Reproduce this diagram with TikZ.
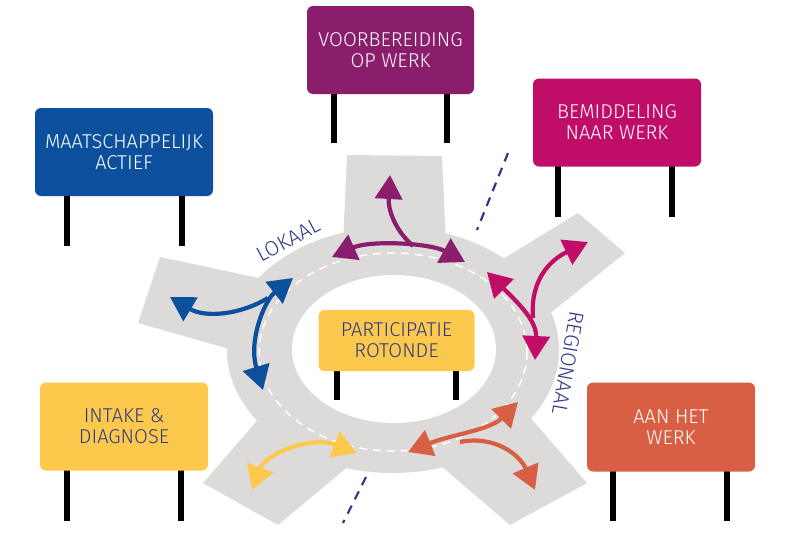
\documentclass[tikz,border=0pt]{standalone}
\usepackage{fontspec}
\setmainfont{Fira Sans Light}
\usetikzlibrary{arrows.meta}
\definecolor{cpurple}{RGB}{138,29,108}
\definecolor{cblue}{RGB}{12,80,157}
\definecolor{cmagenta}{RGB}{192,14,104}
\definecolor{cyellow}{RGB}{253,201,76}
\definecolor{corange}{RGB}{217,95,68}
\definecolor{cnavy}{RGB}{44,56,136}
\definecolor{croad}{RGB}{220,219,218}
\begin{document}
\begin{tikzpicture}[x=1pt,y=-1pt,
  signbox/.style={rounded corners=6pt, inner sep=0pt, align=center, font=\fontsize{20}{21}\selectfont},
  leg/.style={line width=6pt, black},
  tipA/.tip={Triangle[length=24pt,width=27pt]},
  arr/.style={line width=4.2pt, -tipA},
  arrtwo/.style={line width=4.2pt, tipA-tipA},
  lbl/.style={text=cnavy, font=\fontsize{21}{22}\selectfont, inner sep=0pt},
  road/.style={fill=croad}
]
\useasboundingbox (0,0) rectangle (788,549);
% road
\fill[road] (393,350) ellipse [x radius=166, y radius=123];
\fill[road] (343,245) -- (347,155) -- (442,156) -- (446,245) -- cycle;
\fill[road] (498,262) -- (578,213) -- (625,253) -- (548,315) -- cycle;
\fill[road] (160,257) -- (268,280) -- (240,352) -- (138,323) -- cycle;
\fill[road] (262,415) -- (203,483) -- (278,525) -- (350,465) -- cycle;
\fill[road] (528,415) -- (587,483) -- (510,525) -- (440,465) -- cycle;
\fill[white] (394,349) ellipse [x radius=102, y radius=74];
\draw[white, line width=1.5pt, dash pattern=on 8pt off 6pt] (393,352) ellipse [x radius=134, y radius=99];
% dashed border lines
\draw[cnavy, line width=2.2pt, dash pattern=on 9pt off 7pt] (508,153) -- (477,230);
\draw[cnavy, line width=2.2pt, dash pattern=on 9pt off 7pt] (366,477) -- (343,523);
% labels
\node[lbl, rotate=28] (lokaal) at (288,240) {LOKAAL};
\node[lbl, rotate=-100] (regio) at (568,363) {REGIONAAL};
% signs
\draw[leg] (334,90) -- (334,143);
\draw[leg] (447,90) -- (447,143);
\node[signbox, fill=cpurple, text=white, minimum width=167pt, minimum height=88pt] (vob) at (390.5,50) {VOORBEREIDING\\OP WERK};
\draw[leg] (67,190) -- (67,246);
\draw[leg] (182,190) -- (182,246);
\node[signbox, fill=cblue, text=white, minimum width=178pt, minimum height=88pt] (maat) at (124,152) {MAATSCHAPPELIJK\\ACTIEF};
\draw[leg] (558,160) -- (558,217);
\draw[leg] (672,160) -- (672,217);
\node[signbox, fill=cmagenta, text=white, minimum width=168pt, minimum height=88pt] (bem) at (617,122.5) {BEMIDDELING\\NAAR WERK};
\draw[leg] (67,465) -- (67,521);
\draw[leg] (181,465) -- (181,521);
\node[signbox, fill=cyellow, text=cnavy, minimum width=168pt, minimum height=88pt] (intake) at (124,426.5) {INTAKE \&\\DIAGNOSE};
\draw[leg] (613,465) -- (613,521);
\draw[leg] (727,465) -- (727,521);
\node[signbox, fill=corange, text=white, minimum width=168pt, minimum height=89pt] (aan) at (671,427) {AAN HET\\WERK};
\draw[leg] (337,365) -- (337,400);
\draw[leg] (456,365) -- (456,400);
\node[signbox, fill=cyellow, text=cnavy, minimum width=156pt, minimum height=61pt] (part) at (396.5,340.5) {PARTICIPATIE\\ROTONDE};
% arrow coordinates
\coordinate (pL) at (332,257); \coordinate (pR) at (465,262); \coordinate (pJ) at (413,246); \coordinate (pT) at (390,175);
\coordinate (mA) at (487,272); \coordinate (mB) at (535,360); \coordinate (mJ) at (533,318); \coordinate (mT) at (588,242);
\coordinate (bA) at (293,278); \coordinate (bB) at (263,390); \coordinate (bJ) at (268,298); \coordinate (bT) at (170,297);
\coordinate (yA) at (252,490); \coordinate (yB) at (357,453);
\coordinate (oA) at (518,402); \coordinate (oB) at (408,452); \coordinate (oJ) at (460,442); \coordinate (oT) at (535,490);
% arrows
\draw[arrtwo, cpurple] (pL) .. controls (370,240) and (430,243) .. (pR);
\draw[arr, cpurple] (pJ) .. controls (395,230) and (388,210) .. (pT);
\draw[arrtwo, cmagenta] (mA) .. controls (515,300) and (537,320) .. (mB);
\draw[arr, cmagenta] (mJ) .. controls (530,280) and (550,260) .. (mT);
\draw[arrtwo, cblue] (bA) .. controls (265,300) and (248,340) .. (bB);
\draw[arr, cblue] (bJ) .. controls (240,315) and (205,318) .. (bT);
\draw[arrtwo, cyellow] (yA) .. controls (265,455) and (310,435) .. (yB);
\draw[arrtwo, corange] (oA) .. controls (490,430) and (450,435) .. (oB);
\draw[arr, corange] (oJ) .. controls (495,435) and (520,455) .. (oT);
\end{tikzpicture}
\end{document}
